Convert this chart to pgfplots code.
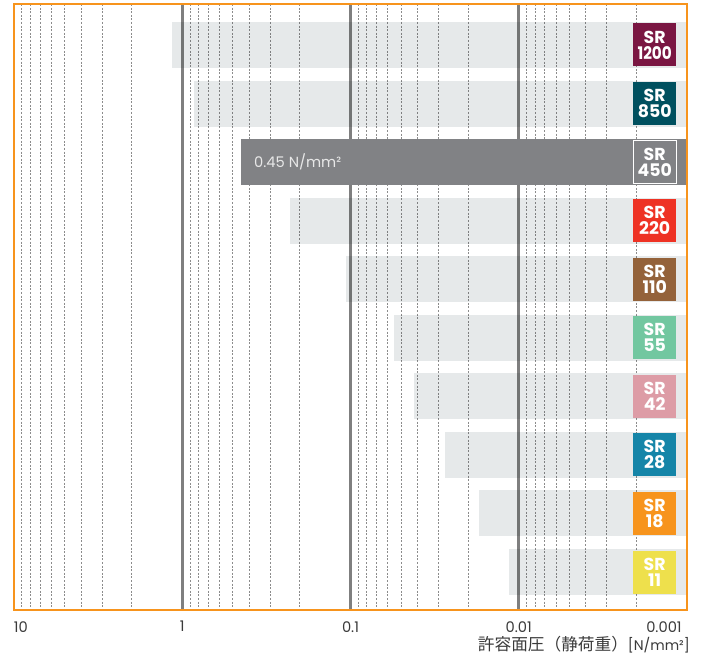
\documentclass[border=0pt]{standalone}
\usepackage{pgfplots}
\pgfplotsset{compat=1.18}
\usepackage{fontspec}
\setmainfont{Poppins}
\newfontfamily\jp{Noto Sans CJK JP}
\definecolor{orangeframe}{HTML}{F7941D}
\definecolor{barlight}{HTML}{E6E9EA}
\definecolor{bardark}{HTML}{818285}
\definecolor{gridmajor}{HTML}{7F7F7F}
\definecolor{gridminor}{HTML}{8C8C8C}
\definecolor{ticktext}{HTML}{3A3A3A}
\definecolor{textlight}{HTML}{E8E8E8}
\definecolor{cA}{HTML}{7A1642}
\definecolor{cB}{HTML}{00505F}
\definecolor{cD}{HTML}{EE3224}
\definecolor{cE}{HTML}{94623A}
\definecolor{cF}{HTML}{72C7A0}
\definecolor{cG}{HTML}{DD9CA6}
\definecolor{cH}{HTML}{1585A8}
\definecolor{cI}{HTML}{F7941D}
\definecolor{cJ}{HTML}{EEE04C}
\tikzset{srbox/.style={rectangle, minimum width=32.25pt, minimum height=32.25pt,
  inner sep=0pt, align=center, text=white, font=\bfseries\fontsize{13}{12}\selectfont}}
\pgfplotsset{lightbar/.style={fill=barlight, draw=none, blend mode=multiply, forget plot}}
\begin{document}
\begin{tikzpicture}
\useasboundingbox (-10.5pt,-33pt) rectangle (516pt,457.5pt);
\begin{axis}[
  at={(0,0)}, anchor=south west,
  scale only axis, width=504.75pt, height=454.5pt,
  xmode=log, x dir=reverse, xmin=0.001, xmax=10,
  y dir=reverse, ymin=-0.700, ymax=9.649,
  clip=false,
  axis line style={draw=none},
  ytick=\empty,
  xtick={10,1,0.1,0.01,0.001},
  xticklabels={\rlap{10},1,0.1,0.01,\llap{0.001\hspace{4pt}}},
  minor xtick={9,8,7,6,5,4,3,2,0.9,0.8,0.7,0.6,0.5,0.4,0.3,0.2,0.09,0.08,0.07,0.06,0.05,0.04,0.03,0.02,0.009,0.008,0.007,0.006,0.005,0.004,0.003,0.002},
  xminorgrids=true, xmajorgrids=true,
  major grid style={draw=gridmajor, line width=2pt},
  minor grid style={draw=gridminor, line width=0.6pt, dash pattern=on 1.5pt off 1.2pt},
  major tick length=0pt, minor tick length=0pt,
  xticklabel style={font=\fontsize{11}{13}\selectfont, text=ticktext, yshift=-5pt},
  xlabel={{\jp 許容面圧（静荷重）}{\fontsize{10.5}{12}\selectfont[N/mm²]}},
  xlabel style={at={(axis description cs:1,0)}, anchor=north east, inner sep=0pt,
    yshift=-19.8pt, xshift=2.25pt, font=\fontsize{12.5}{14}\selectfont, text=ticktext},
]
% light bars (grid shows through)
\addplot[lightbar] coordinates {(1.15,-0.393) (0.001,-0.393) (0.001,0.393) (1.15,0.393)} --cycle;
\addplot[lightbar] coordinates {(0.85,0.607) (0.001,0.607) (0.001,1.393) (0.85,1.393)} --cycle;
\addplot[lightbar] coordinates {(0.23,2.607) (0.001,2.607) (0.001,3.393) (0.23,3.393)} --cycle;
\addplot[lightbar] coordinates {(0.107,3.607) (0.001,3.607) (0.001,4.393) (0.107,4.393)} --cycle;
\addplot[lightbar] coordinates {(0.055,4.607) (0.001,4.607) (0.001,5.393) (0.055,5.393)} --cycle;
\addplot[lightbar] coordinates {(0.042,5.607) (0.001,5.607) (0.001,6.393) (0.042,6.393)} --cycle;
\addplot[lightbar] coordinates {(0.0274,6.607) (0.001,6.607) (0.001,7.393) (0.0274,7.393)} --cycle;
\addplot[lightbar] coordinates {(0.0172,7.607) (0.001,7.607) (0.001,8.393) (0.0172,8.393)} --cycle;
\addplot[lightbar] coordinates {(0.0114,8.607) (0.001,8.607) (0.001,9.393) (0.0114,9.393)} --cycle;
% highlighted bar
\addplot[fill=bardark, draw=none, forget plot] coordinates {(0.45,1.607) (0.001,1.607) (0.001,2.393) (0.45,2.393)} --cycle;
\node[anchor=west, inner sep=0pt, text=textlight, font=\fontsize{11}{13}\selectfont, xshift=10pt]
  at (axis cs:0.45,2) {0.45 N/mm²};
% labels
\node[srbox, fill=cA] at (axis cs:0.001556,0) {SR\\\scalebox{0.88}[1]{1200}};
\node[srbox, fill=cB] at (axis cs:0.001556,1) {SR\\850};
\node[srbox, fill=bardark, draw=white, line width=0.8pt] at (axis cs:0.001556,2) {SR\\450};
\node[srbox, fill=cD] at (axis cs:0.001556,3) {SR\\220};
\node[srbox, fill=cE] at (axis cs:0.001556,4) {SR\\110};
\node[srbox, fill=cF] at (axis cs:0.001556,5) {SR\\55};
\node[srbox, fill=cG] at (axis cs:0.001556,6) {SR\\42};
\node[srbox, fill=cH] at (axis cs:0.001556,7) {SR\\28};
\node[srbox, fill=cI] at (axis cs:0.001556,8) {SR\\18};
\node[srbox, fill=cJ] at (axis cs:0.001556,9) {SR\\11};
\draw[orangeframe, line width=2.1pt] (rel axis cs:0,0) rectangle (rel axis cs:1,1);
\end{axis}
\end{tikzpicture}
\end{document}
